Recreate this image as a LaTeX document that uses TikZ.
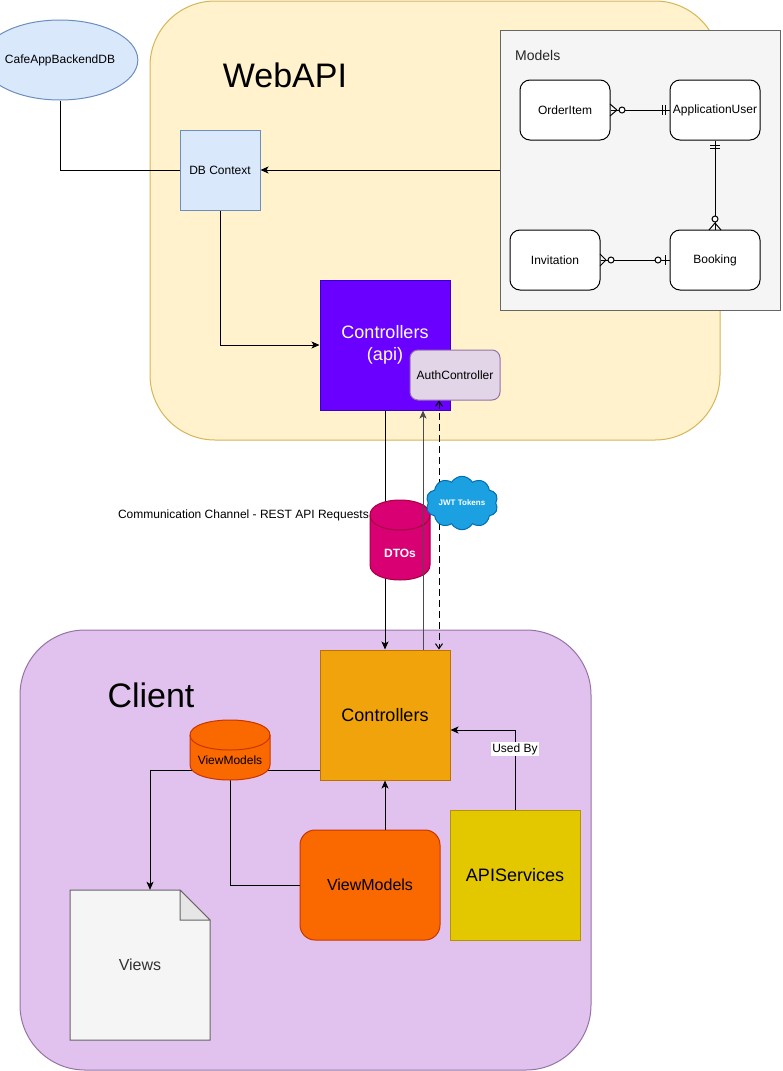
\documentclass[tikz,border=0pt]{standalone}
\usepackage{fontspec}
\setmainfont{Liberation Sans}
\usetikzlibrary{arrows.meta,shapes.symbols,shapes.geometric,calc}
\definecolor{webfill}{HTML}{FFF2CC}
\definecolor{webstroke}{HTML}{D6B656}
\definecolor{blufill}{HTML}{DAE8FC}
\definecolor{blustroke}{HTML}{6C8EBF}
\definecolor{grayfill}{HTML}{F5F5F5}
\definecolor{graystroke}{HTML}{666666}
\definecolor{apifill}{HTML}{6A00FF}
\definecolor{apistroke}{HTML}{3700CC}
\definecolor{lilfill}{HTML}{E1D5E7}
\definecolor{lilstroke}{HTML}{9673A6}
\definecolor{clientfill}{HTML}{E1C2EF}
\definecolor{orangefill}{HTML}{F0A30A}
\definecolor{orangestroke}{HTML}{BD7000}
\definecolor{magfill}{HTML}{D80073}
\definecolor{magstroke}{HTML}{A50040}
\definecolor{cloudfill}{HTML}{1BA1E2}
\definecolor{cloudstroke}{HTML}{006EAF}
\definecolor{vmfill}{HTML}{FA6800}
\definecolor{vmstroke}{HTML}{C73500}
\definecolor{yelfill}{HTML}{E3C800}
\definecolor{yelstroke}{HTML}{B09500}
\definecolor{viewtext}{HTML}{333333}
\definecolor{foldfill}{HTML}{E6E6E6}
\tikzset{
  f8/.style={font=\fontsize{8}{10}\selectfont},
  f12/.style={font=\fontsize{12}{14}\selectfont},
  f14/.style={font=\fontsize{14}{17}\selectfont},
  f16/.style={font=\fontsize{16}{19}\selectfont},
  f18/.style={font=\fontsize{18}{21.6}\selectfont},
  box/.style={draw, line width=1pt, inner sep=0pt, align=center},
  entity/.style={box, fill=white, draw=black, rounded corners=10pt, minimum width=90pt, minimum height=60pt, f12},
  conn/.style={line width=1pt, draw=black},
  arr/.style={conn, -{Stealth[length=8pt,width=7pt,inset=2pt]}},
  erline/.style={line width=1pt, draw=black},
}
\begin{document}
\begin{tikzpicture}[x=1pt,y=-1pt]
\useasboundingbox (0,0) rectangle (782,1071);
% containers
\node[box, fill=webfill, draw=webstroke, rounded corners=65pt, minimum width=570pt, minimum height=439pt] (webapi) at (435,220.5) {};
\node[box, fill=clientfill, draw=lilstroke, rounded corners=65pt, minimum width=571pt, minimum height=440pt] (client) at (305.5,850) {};
\node[font=\fontsize{34}{38}\selectfont, inner sep=0pt] (webapititle) at (285,75) {WebAPI};
\node[font=\fontsize{34}{38}\selectfont, inner sep=0pt] (clienttitle) at (151,695) {Client};
% database
\node[box, ellipse, fill=blufill, draw=blustroke, minimum width=120pt, minimum height=80pt, f12] (db) at (60,60) {CafeAppBackendDB};
\node[box, fill=blufill, draw=blustroke, minimum width=80pt, minimum height=80pt, f12] (dbctx) at (220,170) {DB Context};
% models
\node[box, fill=grayfill, draw=graystroke, minimum width=280pt, minimum height=280pt] (models) at (640,170) {};
\node[anchor=west, inner sep=0pt, f14, text=black!85] (modelstitle) at (515,55) {Models};
\node[entity] (oi) at (565,110) {OrderItem};
\node[entity] (au) at (715,110) {ApplicationUser};
\node[entity] (inv) at (555,260) {Invitation};
\node[entity] (bk) at (715,260) {Booking};
% ER: OrderItem >o----|| ApplicationUser
\draw[erline] (oi.east) -- (au.west);
\draw[erline] (617,110) -- (610,104) (617,110) -- (610,116);
\draw[erline, fill=white] (622,110) circle[radius=3];
\draw[erline] (662,105) -- (662,115) (665,105) -- (665,115);
% ER: ApplicationUser ||----o< Booking
\draw[erline] (au.south) -- (bk.north);
\draw[erline] (710,145) -- (720,145) (710,148.5) -- (720,148.5);
\draw[erline] (715,223) -- (709,230) (715,223) -- (721,230);
\draw[erline, fill=white] (715,219) circle[radius=3];
% ER: Invitation >o----o| Booking
\draw[erline] (inv.east) -- (bk.west);
\draw[erline] (606,260) -- (600,254) (606,260) -- (600,266);
\draw[erline, fill=white] (611,260) circle[radius=3];
\draw[erline, fill=white] (658,260) circle[radius=3];
\draw[erline] (665.5,255) -- (665.5,265);
% api controllers
\node[box, fill=apifill, draw=apistroke, minimum width=130pt, minimum height=130pt, text=white, f18] (api) at (385,345) {Controllers\\(api)};
\node[box, fill=lilfill, draw=lilstroke, rounded corners=8pt, minimum width=90pt, minimum height=50pt, f12] (auth) at (455,375) {AuthController};
% connectors in WebAPI
\draw[conn] (db.south) |- (dbctx.west);
\draw[arr] (models.west) -- (dbctx.east);
\draw[arr] (dbctx.south) |- (api.west);
% client controllers
\node[box, fill=orangefill, draw=orangestroke, minimum width=130pt, minimum height=130pt, f18] (cctrl) at (385,715) {Controllers};
% communication channel
\draw[arr] (api.south) -- (cctrl.north);
\draw[conn, dashed, dash pattern=on 7pt off 4pt, {Straight Barb[length=5pt,width=7pt]}-{Straight Barb[length=5pt,width=7pt]}] ([xshift=-16pt]auth.south) -- ([xshift=54pt]cctrl.north);
% DTOs cylinder
\filldraw[line width=1pt, fill=magfill, draw=magstroke] (370,515) -- (370,565) .. controls (370,585) and (430,585) .. (430,565) -- (430,515) .. controls (430,495) and (370,495) .. cycle;
\draw[line width=1pt, draw=magstroke] (370,515) .. controls (370,535) and (430,535) .. (430,515);
\node[inner sep=0pt, text=white, font=\fontsize{12}{14}\selectfont\bfseries] (dtos) at (400,553) {DTOs};
\node[anchor=east, inner sep=0pt, f12] (commlabel) at (369,515) {Communication Channel - REST API Requests};
\node[cloud, cloud puffs=10, cloud puff arc=120, aspect=1.5, draw=cloudstroke, fill=cloudfill, line width=1pt, minimum width=72pt, minimum height=46pt, inner sep=0pt, text=white, font=\fontsize{8}{10}\selectfont\bfseries] (jwt) at (462,503) {JWT Tokens};
\draw[arr, draw=black!70] ([xshift=38pt]cctrl.north) -- ([xshift=38pt]api.south);
% client inner
\node[box, fill=vmfill, draw=vmstroke, rounded corners=15pt, minimum width=140pt, minimum height=110pt, f16] (vmbox) at (370,885) {ViewModels};
\node[box, fill=yelfill, draw=yelstroke, minimum width=130pt, minimum height=130pt, f18] (apis) at (515,875) {APIServices};
% Views document
\node[inner sep=0pt, minimum width=140pt, minimum height=150pt] (views) at (140,965) {};
\filldraw[line width=1pt, fill=grayfill, draw=graystroke] (70,890) -- (180,890) -- (210,920) -- (210,1040) -- (70,1040) -- cycle;
\filldraw[line width=1pt, fill=foldfill, draw=graystroke, line join=round] (180,890) -- (180,920) -- (210,920) -- cycle;
\node[inner sep=0pt, text=viewtext, f16] (viewslabel) at (140,965) {Views};
% client connectors
\draw[arr] ([yshift=-55pt]cctrl.west) -| ([xshift=10pt]views.north);
\coordinate (vmcylb) at (230,780);
\draw[conn] (vmbox.west) -| (vmcylb);
\draw[arr] (cctrl.south |- vmbox.north) -- (cctrl.south);
\draw[arr] (apis.north) |- node[pos=0.38, fill=white, inner sep=1pt, f12] (usedby) {Used By} ([yshift=-15pt]cctrl.east);
% ViewModels cylinder
\filldraw[line width=1pt, fill=vmfill, draw=vmstroke] (190,735) -- (190,765) .. controls (190,785) and (270,785) .. (270,765) -- (270,735) .. controls (270,715) and (190,715) .. cycle;
\draw[line width=1pt, draw=vmstroke] (190,735) .. controls (190,755) and (270,755) .. (270,735);
\node[inner sep=0pt, f12] (vmcyl) at (230,760) {ViewModels};
\end{tikzpicture}
\end{document}
